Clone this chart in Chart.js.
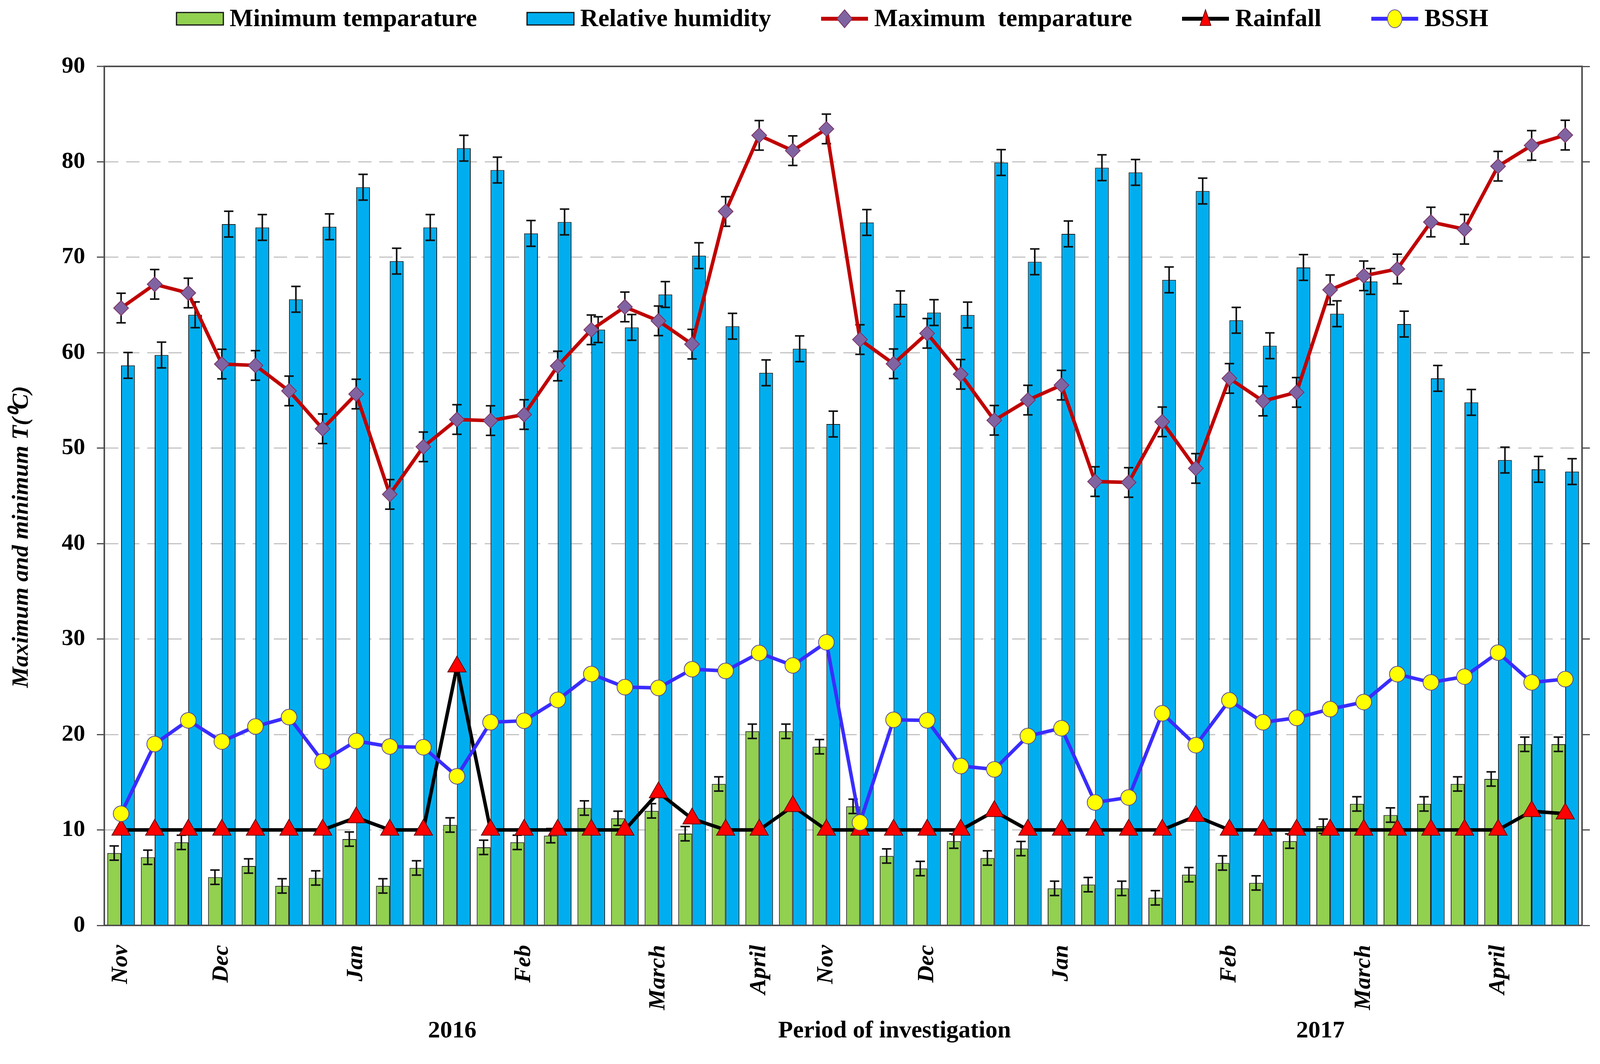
<!DOCTYPE html>
<html>
<head>
<meta charset="utf-8">
<title>Weather parameters during the period of investigation</title>
<script src="https://cdn.jsdelivr.net/npm/chart.js@4.4.1/dist/chart.umd.min.js"></script>
<style>
  html, body { margin: 0; padding: 0; background: #fff; }
  canvas { display: block; }
</style>
</head>
<body>
<canvas id="weatherChart" width="4317" height="2725"></canvas>
<script>
// month names shown under the axis and the week (0-based) they sit on
const MONTHS = ["Nov", "Dec", "Jan", "Feb", "March", "April", "Nov", "Dec", "Jan", "Feb", "March", "April"];
const MONTH_AT = [0, 3, 7, 12, 16, 19, 21, 24, 28, 33, 37, 41];
const WEEKS = 44;

const leftTicks = [0, 10, 20, 30, 40, 50, 60, 70, 80, 90];
const rightTicks = [-5, 0, 5, 10, 15, 20, 25, 30, 35, 40];

const minTemp = [7.58, 7.14, 8.7, 5.05, 6.22, 4.14, 4.97, 9.04, 4.14, 6.02, 10.52, 8.18, 8.7, 9.4,
  12.3, 11.22, 12.0, 9.61, 14.82, 20.34, 20.34, 18.72, 12.47, 7.27, 5.96, 8.83, 7.06, 8.05, 3.88,
  4.27, 3.88, 2.89, 5.31, 6.54, 4.45, 8.83, 10.39, 12.73, 11.56, 12.73, 14.82, 15.34, 18.98, 18.98];

const humidity = [58.67, 59.76, 63.97, 73.47, 73.13, 65.6, 73.2, 77.34, 69.6, 73.13, 81.43, 79.14,
  72.5, 73.7, 62.42, 62.65, 66.1, 70.17, 62.78, 57.9, 60.41, 52.53, 73.65, 65.13, 64.21, 63.95,
  79.93, 69.52, 72.45, 79.38, 78.89, 67.63, 76.94, 63.4, 60.73, 68.93, 64.08, 67.47, 63.0, 57.31,
  54.8, 48.75, 47.78, 47.55];

const maxTemp = [64.68, 67.17, 66.26, 58.81, 58.67, 56.0, 52.03, 55.67, 45.16, 50.14, 53.0, 52.89,
  53.52, 58.61, 62.4, 64.8, 63.34, 60.9, 74.8, 82.77, 81.17, 83.45, 61.38, 58.84, 62.03, 57.74,
  52.92, 55.04, 56.6, 46.5, 46.41, 52.76, 47.88, 57.31, 54.94, 55.85, 66.59, 68.06, 68.77, 73.69,
  72.94, 79.54, 81.72, 82.8];

const rainfall = [0, 0, 0, 0, 0, 0, 0, 0.65, 0, 0, 8.55, 0, 0, 0, 0, 0, 1.96, 0.59, 0, 0, 1.24, 0,
  0, 0, 0, 0, 0.98, 0, 0, 0, 0, 0, 0.72, 0, 0, 0, 0, 0, 0, 0, 0, 0, 0.98, 0.85];

const bssh = [0.85, 4.5, 5.74, 4.63, 5.42, 5.91, 3.59, 4.66, 4.37, 4.33, 2.81, 5.64, 5.72, 6.81,
  8.17, 7.48, 7.44, 8.42, 8.33, 9.27, 8.62, 9.83, 0.39, 5.77, 5.74, 3.35, 3.17, 4.92, 5.33, 1.44,
  1.7, 6.11, 4.44, 6.79, 5.64, 5.87, 6.33, 6.7, 8.16, 7.73, 8.03, 9.29, 7.73, 7.9];

// half length of the error bars
const minTempErr = 0.75;
const humidityErr = 1.35;
const maxTempErr = 1.55;

const labels = Array.from({ length: WEEKS }, () => "");
MONTH_AT.forEach((idx, k) => (labels[idx] = MONTHS[k]));

const FONT = '"Liberation Serif", "Times New Roman", serif';
const GREEN = "#92d050";
const BLUE = "#00aeef";
const RED = "#c00000";
const PURPLE = "#8064a2";
const LINE_BLUE = "#3a2cff";
const YELLOW = "#ffff00";
const AXIS = "#4d4d4d";

Chart.defaults.color = "#000";

function drawErrors(chart, index) {
  const ds = chart.data.datasets[index];
  if (!ds.errorBar) return;
  const meta = chart.getDatasetMeta(index);
  const scale = chart.scales[meta.yAxisID];
  const ctx = chart.ctx;
  ctx.save();
  ctx.strokeStyle = "#111";
  ctx.lineWidth = 4;
  meta.data.forEach((el, i) => {
    const v = ds.data[i];
    const top = scale.getPixelForValue(v + ds.errorBar);
    const bot = scale.getPixelForValue(v - ds.errorBar);
    ctx.beginPath();
    ctx.moveTo(el.x, top);
    ctx.lineTo(el.x, bot);
    ctx.moveTo(el.x - 12, top);
    ctx.lineTo(el.x + 12, top);
    ctx.moveTo(el.x - 12, bot);
    ctx.lineTo(el.x + 12, bot);
    ctx.stroke();
  });
  ctx.restore();
}

const errorBarPlugin = {
  id: "errorBars",
  beforeDatasetDraw(chart, args) {
    if (args.meta.type === "line") drawErrors(chart, args.index);
  },
  afterDatasetDraw(chart, args) {
    if (args.meta.type === "bar") drawErrors(chart, args.index);
  },
};

function marker(ctx, kind, x, y, r, fill, stroke) {
  ctx.beginPath();
  if (kind === "diamond") {
    ctx.moveTo(x, y - r);
    ctx.lineTo(x + r * 0.85, y);
    ctx.lineTo(x, y + r);
    ctx.lineTo(x - r * 0.85, y);
    ctx.closePath();
  } else if (kind === "triangle") {
    ctx.moveTo(x, y - r);
    ctx.lineTo(x + r * 0.6, y + r * 0.75);
    ctx.lineTo(x - r * 0.6, y + r * 0.75);
    ctx.closePath();
  } else {
    ctx.ellipse(x, y, r * 0.8, r, 0, 0, Math.PI * 2);
  }
  ctx.fillStyle = fill;
  ctx.fill();
  ctx.lineWidth = 2;
  ctx.strokeStyle = stroke;
  ctx.stroke();
}

const legendItems = [
  { text: "Minimum temparature", kind: "box", fill: GREEN },
  { text: "Relative humidity", kind: "box", fill: BLUE },
  { text: "Maximum  temparature", kind: "diamond", line: RED, fill: PURPLE, stroke: "#7a3060" },
  { text: "Rainfall", kind: "triangle", line: "#000", fill: "#ff0000", stroke: "#6b0000" },
  { text: "BSSH", kind: "circle", line: LINE_BLUE, fill: YELLOW, stroke: "#6a5aa0" },
];

const decorPlugin = {
  id: "decor",
  afterDraw(chart) {
    const { ctx } = chart;
    const x = chart.scales.x;
    ctx.save();
    ctx.fillStyle = "#000";

    // legend
    ctx.font = `bold 64px ${FONT}`;
    ctx.textBaseline = "middle";
    ctx.textAlign = "left";
    const symW = 120, gap = 16, itemGap = 128, ly = 48;
    const widths = legendItems.map((it) => ctx.measureText(it.text).width);
    const total = widths.reduce((a, w) => a + symW + gap + w, 0) + itemGap * (legendItems.length - 1);
    let lx = 2131 - total / 2;
    legendItems.forEach((it, i) => {
      if (it.kind === "box") {
        ctx.fillStyle = it.fill;
        ctx.fillRect(lx, ly - 16, symW, 32);
        ctx.lineWidth = 3;
        ctx.strokeStyle = "#111";
        ctx.strokeRect(lx, ly - 16, symW, 32);
      } else {
        ctx.strokeStyle = it.line;
        ctx.lineWidth = 10;
        ctx.beginPath();
        ctx.moveTo(lx, ly);
        ctx.lineTo(lx + symW, ly);
        ctx.stroke();
        marker(ctx, it.kind, lx + symW / 2, ly, 23, it.fill, it.stroke);
      }
      ctx.fillStyle = "#000";
      ctx.fillText(it.text, lx + symW + gap, ly + 2);
      lx += symW + gap + widths[i] + itemGap;
    });

    // axis titles
    ctx.font = `bold italic 60px ${FONT}`;
    ctx.textAlign = "center";
    ctx.textBaseline = "middle";
    ctx.save();
    ctx.translate(55, 1375);
    ctx.rotate(-Math.PI / 2);
    ctx.fillText("Maximum and minimum T(\u2070C)", 0, 0);
    ctx.restore();
    ctx.save();
    ctx.translate(4273, 1227);
    ctx.rotate(-Math.PI / 2);
    ctx.fillText("Relative humidity (%), rainfall (mm) and BSSH (hours)", 0, 0);
    ctx.restore();

    // years and x title
    ctx.font = `bold 62px ${FONT}`;
    ctx.fillText("2016", x.getPixelForValue(9.86), 2641);
    ctx.fillText("Period of investigation", x.getPixelForValue(23.03), 2641);
    ctx.fillText("2017", x.getPixelForValue(35.71), 2641);
    ctx.restore();
  },
};

const dashed = (c) => (c.tick && c.tick.value === 90 ? [] : [34, 20]);

new Chart(document.getElementById("weatherChart"), {
  type: "bar",
  data: {
    labels,
    datasets: [
      {
        label: "Minimum temparature",
        data: minTemp,
        errorBar: minTempErr,
        backgroundColor: GREEN,
        borderColor: "#1a1a1a",
        borderWidth: 2,
        yAxisID: "y",
        order: 3,
      },
      {
        label: "Relative humidity",
        data: humidity,
        errorBar: humidityErr,
        backgroundColor: BLUE,
        borderColor: "#1a1a1a",
        borderWidth: 2,
        yAxisID: "y",
        order: 4,
      },
      {
        type: "line",
        label: "Maximum  temparature",
        data: maxTemp,
        errorBar: maxTempErr,
        borderColor: RED,
        borderWidth: 9,
        pointStyle: "rectRot",
        pointRadius: 19,
        pointBackgroundColor: PURPLE,
        pointBorderColor: "#7a3060",
        pointBorderWidth: 2,
        tension: 0,
        yAxisID: "y",
        order: 0,
      },
      {
        type: "line",
        label: "Rainfall",
        data: rainfall,
        borderColor: "#000",
        borderWidth: 9,
        pointStyle: "triangle",
        pointRadius: 27,
        pointBackgroundColor: "#ff0000",
        pointBorderColor: "#6b0000",
        pointBorderWidth: 2,
        tension: 0,
        yAxisID: "y1",
        order: 2,
      },
      {
        type: "line",
        label: "BSSH",
        data: bssh,
        borderColor: LINE_BLUE,
        borderWidth: 9,
        pointStyle: "circle",
        pointRadius: 20,
        pointBackgroundColor: YELLOW,
        pointBorderColor: "#5a4a90",
        pointBorderWidth: 2,
        tension: 0,
        yAxisID: "y1",
        order: 1,
      },
    ],
  },
  options: {
    responsive: false,
    devicePixelRatio: 1,
    animation: false,
    layout: { padding: { top: 170, left: 0, right: 0, bottom: 0 } },
    datasets: { bar: { categoryPercentage: 0.82, barPercentage: 1.0 } },
    plugins: { legend: { display: false }, tooltip: { enabled: false } },
    scales: {
      x: {
        offset: true,
        grid: { display: false, drawTicks: false },
        border: { display: true, color: AXIS, width: 4 },
        ticks: {
          autoSkip: false,
          minRotation: 90,
          maxRotation: 90,
          padding: 50,
          font: { family: FONT, size: 60, weight: "bold", style: "italic" },
        },
        afterFit: (s) => { s.height = 355; },
      },
      y: {
        position: "left",
        min: 0,
        max: 90,
        afterBuildTicks: (s) => { s.ticks = leftTicks.map((v) => ({ value: v })); },
        ticks: { padding: 30, font: { family: FONT, size: 60, weight: "bold" } },
        grid: {
          color: (c) => (c.tick && c.tick.value === 90 ? AXIS : "#c4c4c4"),
          lineWidth: (c) => (c.tick && c.tick.value === 90 ? 4 : 3),
          tickColor: AXIS,
          tickWidth: 3,
          tickLength: 19,
        },
        border: { display: true, color: AXIS, width: 4, dash: dashed },
        afterFit: (s) => { s.width = 267; },
      },
      y1: {
        position: "right",
        min: -5,
        max: 40,
        afterBuildTicks: (s) => { s.ticks = rightTicks.map((v) => ({ value: v })); },
        ticks: { padding: 35, font: { family: FONT, size: 60, weight: "bold" } },
        grid: {
          drawOnChartArea: false,
          tickColor: AXIS,
          tickWidth: 3,
          tickLength: 20,
        },
        border: { display: true, color: AXIS, width: 4 },
        afterFit: (s) => { s.width = 267; },
      },
    },
  },
  plugins: [errorBarPlugin, decorPlugin],
});
</script>
</body>
</html>
